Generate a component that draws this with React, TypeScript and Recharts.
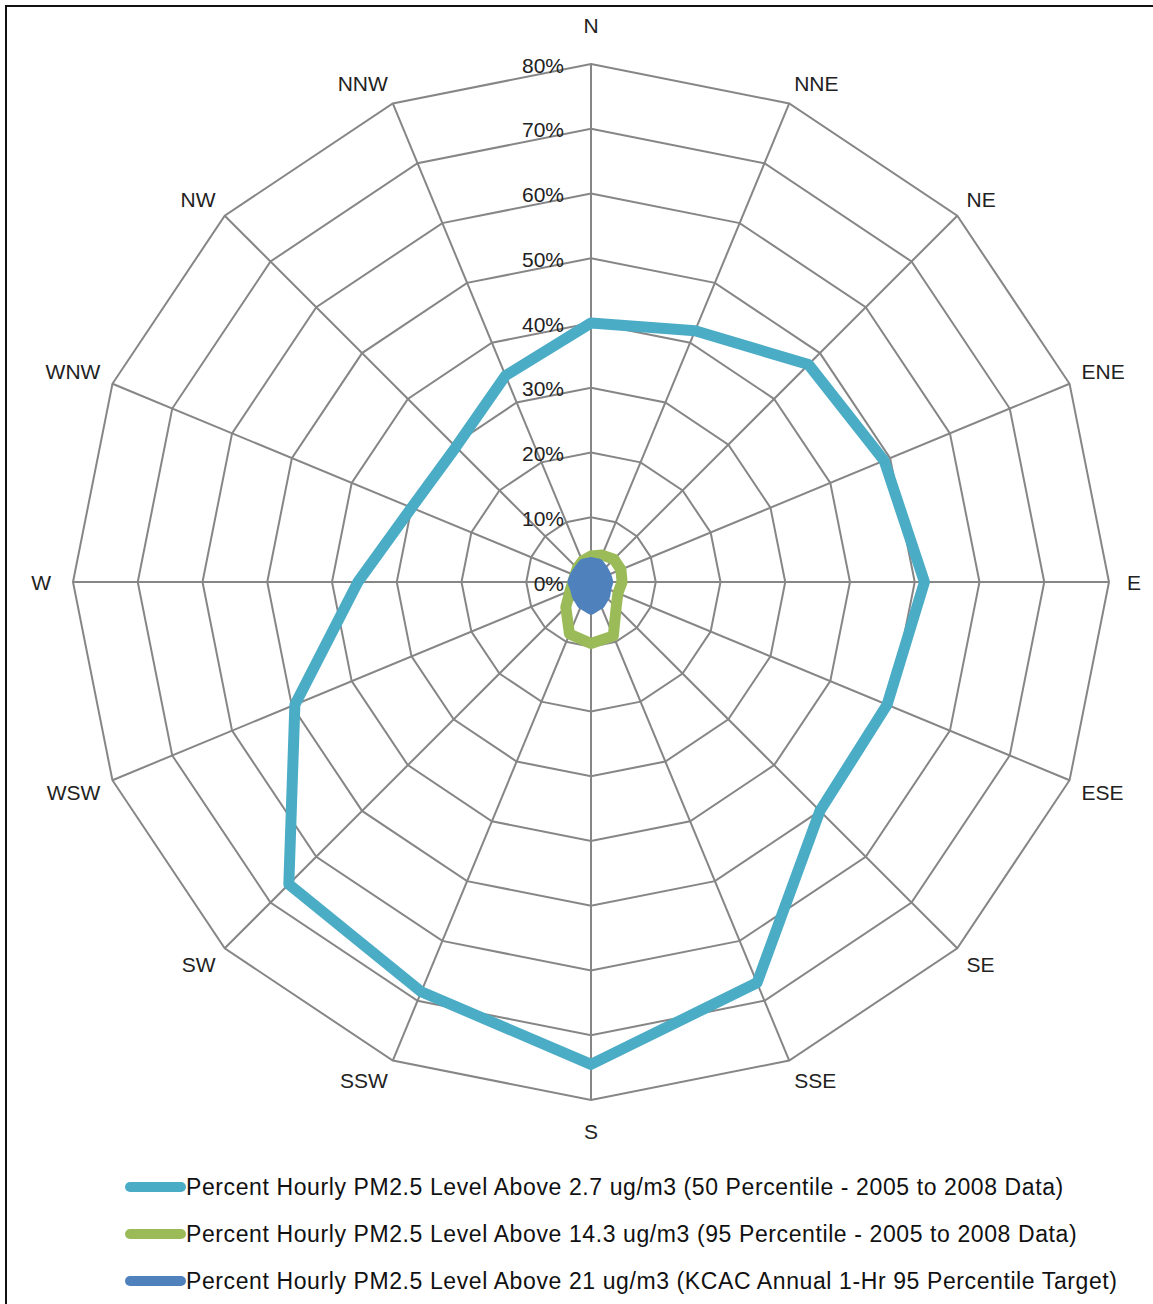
import { RadarChart, Radar, PolarGrid, PolarAngleAxis, PolarRadiusAxis } from 'recharts';

const directions = ['N', 'NNE', 'NE', 'ENE', 'E', 'ESE', 'SE', 'SSE', 'S', 'SSW', 'SW', 'WSW', 'W', 'WNW', 'NW', 'NNW'];
const pct50 = [40, 42, 47.5, 49, 51.5, 49.5, 50, 67, 74.5, 68.5, 66, 49.5, 36, 30, 29.5, 34.5];
const pct95 = [4, 4.5, 5, 5, 4.8, 4.5, 5.5, 9, 9.5, 8.7, 5.5, 3.5, 2.8, 2.7, 3, 3.5];
const target = [3, 3, 2.6, 2.5, 2.6, 2.5, 3, 3.6, 4.2, 3.6, 3, 2.6, 2.8, 2.6, 2.6, 3];
const radiusTicks = [0, 10, 20, 30, 40, 50, 60, 70, 80];

const series = [
  { key: 'p50', label: 'Percent Hourly PM2.5 Level Above 2.7 ug/m3 (50 Percentile - 2005 to 2008 Data)', color: '#4BACC6', values: pct50, filled: false },
  { key: 'p95', label: 'Percent Hourly PM2.5 Level Above 14.3 ug/m3 (95 Percentile - 2005 to 2008 Data)', color: '#9BBB59', values: pct95, filled: false },
  { key: 'tgt', label: 'Percent Hourly PM2.5 Level Above 21 ug/m3 (KCAC Annual 1-Hr 95 Percentile Target)', color: '#4F81BD', values: target, filled: true },
];

const data = directions.map((d, i) => {
  const row: Record<string, string | number> = { dir: d };
  for (const s of series) row[s.key] = s.values[i];
  return row;
});

const CX = 591;
const CY = 582;
const R = 518;
const FONT = '"Liberation Sans", Arial, sans-serif';
const CAP = 15;

// label box corner nearest the centre sits just outside the outer ring, like Excel does it
function AngleTick(props: any) {
  const angle = props.payload.coordinate;
  const rad = (-angle * Math.PI) / 180;
  const cx = Math.cos(rad);
  const sy = Math.sin(rad);
  const onX = Math.abs(cx) < 0.01;
  const onY = Math.abs(sy) < 0.01;
  let gap = 13;
  if (onX) gap = sy < 0 ? 31 : 24;
  else if (onY) gap = cx < 0 ? 22 : 18;
  const px = CX + (R + gap) * cx;
  const py = CY + (R + gap) * sy;
  const anchor = onX ? 'middle' : cx > 0 ? 'start' : 'end';
  const baseY = onY ? py + CAP / 2 : sy < 0 ? py : py + CAP;
  return (
    <text x={px} y={baseY} textAnchor={anchor} fontSize={21} fill="#222" fontFamily={FONT}>
      {props.payload.value}
    </text>
  );
}

function RadiusTick(props: any) {
  return (
    <text x={props.x - 27} y={props.y + 1} textAnchor="end" dominantBaseline="central" fontSize={21} fill="#222" fontFamily={FONT}>
      {props.payload.value}%
    </text>
  );
}

export default function App() {
  return (
    <div style={{ position: 'absolute', left: 0, top: 0, width: 1153, height: 1304, overflow: 'hidden', background: '#fff', fontFamily: FONT }}>
      <div style={{ position: 'absolute', left: 5, top: 5, width: 1200, height: 1400, border: '2px solid #111' }} />
      <div style={{ position: 'absolute', left: 0, top: 0 }}>
        <RadarChart width={1153} height={1160} data={data} cx={CX} cy={CY} outerRadius={R} margin={{ top: 0, right: 0, bottom: 0, left: 0 }}>
          <PolarGrid gridType="polygon" stroke="#868686" strokeWidth={2} />
          <PolarAngleAxis dataKey="dir" tick={AngleTick} tickLine={false} axisLine={false} />
          <PolarRadiusAxis angle={90} domain={[0, 80]} ticks={radiusTicks} tickCount={9} axisLine={false} tickLine={false} tick={RadiusTick} />
          {series.map((s) => (
            <Radar
              key={s.key}
              dataKey={s.key}
              name={s.label}
              stroke={s.color}
              strokeWidth={11}
              strokeLinejoin="round"
              fill={s.color}
              fillOpacity={s.filled ? 1 : 0}
              dot={false}
              isAnimationActive={false}
            />
          ))}
        </RadarChart>
      </div>
      {series.map((s, i) => (
        <div key={s.key} style={{ position: 'absolute', left: 125, top: 1187 + i * 47 - 15, height: 30, display: 'flex', alignItems: 'center' }}>
          <div style={{ width: 61, height: 10, borderRadius: 5, background: s.color }} />
          <span style={{ fontSize: 23, letterSpacing: 0.6, color: '#111', whiteSpace: 'nowrap' }}>{s.label}</span>
        </div>
      ))}
    </div>
  );
}
